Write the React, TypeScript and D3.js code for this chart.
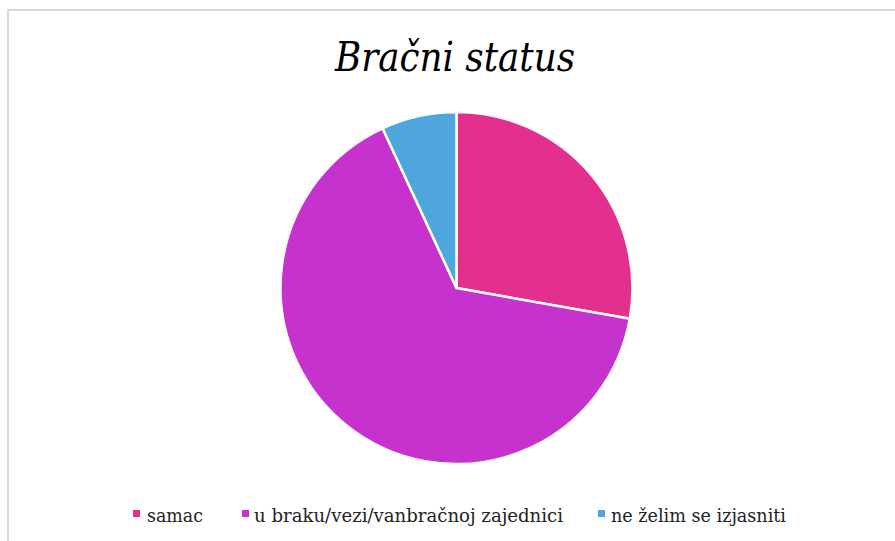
import React from "react";
import * as d3 from "d3";

const categories = ["samac", "u braku/vezi/vanbračnoj zajednici", "ne želim se izjasniti"];
const values = [27.8, 65.3, 6.9];
const colors = ["#E3308E", "#C532CE", "#4FA6DC"];
const title = "Bračni status";

const W = 895;
const H = 541;
const SERIF = "'DejaVu Serif Condensed', 'DejaVu Serif', serif";

export default function App() {
  const cx = 456.5, cy = 288, r = 176;
  const pie = d3.pie<number>().sort(null).value((d) => d)(values);
  const arc = d3.arc<d3.PieArcDatum<number>>().innerRadius(0).outerRadius(r);
  const legend = [
    { sq: 133, tx: 147, tw: 56 },
    { sq: 242, tx: 254, tw: 309 },
    { sq: 598, tx: 611, tw: 175 },
  ];
  return (
    <svg width={W} height={H} style={{ position: "absolute", left: 0, top: 0, display: "block" }}>
      <rect x={0} y={0} width={W} height={H} fill="#fff" />
      <rect x={8} y={10} width={W + 20} height={H + 20} fill="#fff" stroke="#d9d9d9" strokeWidth={2} />
      <text x={455} y={71} textAnchor="middle" style={{ fontFamily: SERIF, fontStyle: "italic", fontSize: 41 }} fill="#000" textLength={240} lengthAdjust="spacingAndGlyphs">{title}</text>
      <g transform={`translate(${cx},${cy})`}>
        {pie.map((p, i) => (
          <path key={i} d={arc(p) || ""} fill={colors[i]} stroke="#fff" strokeWidth={2.5} strokeLinejoin="round" />
        ))}
      </g>
      {categories.map((c, i) => (
        <g key={c}>
          <rect x={legend[i].sq} y={510} width={7} height={7} fill={colors[i]} />
          <text x={legend[i].tx} y={522} style={{ fontFamily: SERIF, fontSize: 19 }} fill="#222" textLength={legend[i].tw} lengthAdjust="spacingAndGlyphs">{c}</text>
        </g>
      ))}
    </svg>
  );
}
